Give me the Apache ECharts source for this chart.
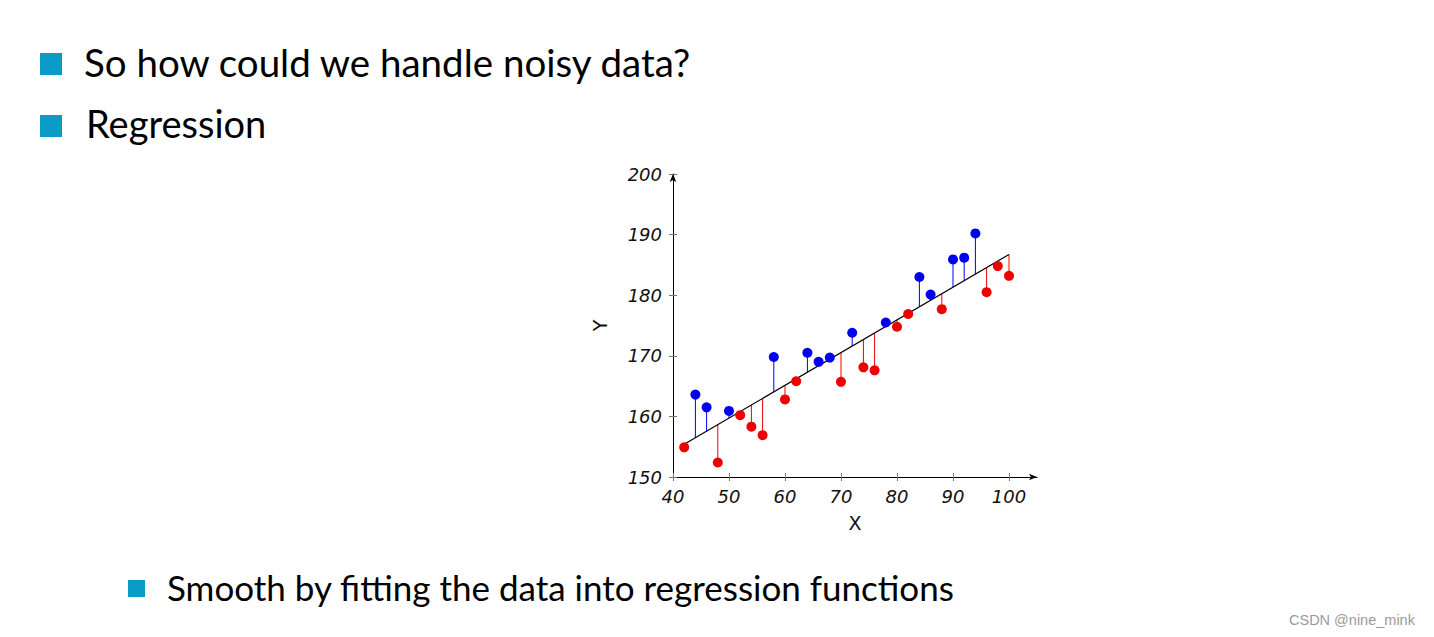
<!DOCTYPE html>
<html><head><meta charset="utf-8">
<script src="https://cdn.jsdelivr.net/npm/echarts@6/dist/echarts.min.js"></script>
<style>html,body{margin:0;padding:0;background:#fff}#c{width:1434px;height:637px}</style>
</head><body><div id="c"></div>
<script>
// ---- data ----
const xValues = [42,44,46,48,50,52,54,56,58,60,62,64,66,68,70,72,74,76,78,80,82,84,86,88,90,92,94,96,98,100];
const yValues = [154.9,163.6,161.5,152.4,160.9,160.2,158.3,156.9,169.8,162.8,165.8,170.5,169.0,169.7,165.7,173.8,168.1,167.6,175.5,174.8,176.9,183.0,180.1,177.7,185.9,186.2,190.2,180.5,184.8,183.2];
const regressionIntercept = 155.4;   // fitted Y at x = 42
const regressionSlope = 0.54;
const regressionRange = [42, 100];
const xTicks = [40,50,60,70,80,90,100];
const yTicks = [150,160,170,180,190,200];
const slideLines = ['So how could we handle noisy data?', 'Regression', 'Smooth by fitting the data into regression functions'];
const watermark = 'CSDN @nine_mink';

const BLUE = '#0000ee', RED = '#ee0000', BULLET = '#0a9bc9';
const fit = x => regressionIntercept + regressionSlope * (x - regressionRange[0]);

const blueData = [], redData = [];
xValues.forEach((x, i) => { (yValues[i] >= fit(x) ? blueData : redData).push([x, yValues[i]]); });
const stemData = xValues.map((x, i) => [x, yValues[i], fit(x)]);

const labelFont = { fontFamily: 'DejaVu Sans', fontStyle: 'italic', fontSize: 18, color: '#111' };

const chart = echarts.init(document.getElementById('c'), null, { renderer: 'svg' });
chart.setOption({
  animation: false,
  backgroundColor: '#fff',
  grid: { left: 673, top: 174, right: 397, bottom: 160 },
  xAxis: [{
    type: 'value', min: 40, max: 105, interval: 5,
    name: 'X', nameLocation: 'middle', nameGap: 36,
    nameTextStyle: { fontFamily: 'DejaVu Sans', fontSize: 19, color: '#111' },
    axisLine: { show: true, symbol: ['none', 'arrow'], symbolSize: [5, 8], lineStyle: { color: '#000', width: 1 } },
    axisTick: { show: true, customValues: xTicks, length: 4, lineStyle: { color: '#777' } },
    axisLabel: Object.assign({ customValues: xTicks, margin: 10 }, labelFont),
    splitLine: { show: false }
  }, {
    type: 'value', min: 40, max: 105, interval: 5, position: 'bottom', offset: 0,
    axisLine: { show: false },
    axisTick: { show: true, inside: true, customValues: xTicks, length: 4, lineStyle: { color: '#777' } },
    axisLabel: { show: false }, splitLine: { show: false }
  }],
  yAxis: [{
    type: 'value', min: 150, max: 200, interval: 10,
    name: 'Y', nameLocation: 'middle', nameGap: 64,
    nameTextStyle: { fontFamily: 'DejaVu Sans', fontSize: 19, color: '#111' },
    axisLine: { show: true, symbol: ['none', 'arrow'], symbolSize: [5, 8], lineStyle: { color: '#000', width: 1 } },
    axisTick: { show: true, length: 4, lineStyle: { color: '#777' } },
    axisLabel: Object.assign({ margin: 11 }, labelFont),
    splitLine: { show: false }
  }, {
    type: 'value', min: 150, max: 200, interval: 10, position: 'left', offset: 0,
    axisLine: { show: false },
    axisTick: { show: true, inside: true, length: 4, lineStyle: { color: '#777' } },
    axisLabel: { show: false }, splitLine: { show: false }
  }],
  series: [{
    type: 'custom', xAxisIndex: 0, yAxisIndex: 0, z: 1,
    data: stemData,
    renderItem: (params, api) => {
      const p1 = api.coord([api.value(0), api.value(1)]);
      const p2 = api.coord([api.value(0), api.value(2)]);
      return { type: 'line', shape: { x1: p1[0], y1: p1[1], x2: p2[0], y2: p2[1] },
        style: { stroke: api.value(1) >= api.value(2) ? BLUE : RED, lineWidth: 1 } };
    }
  }, {
    type: 'line', z: 2, showSymbol: false, silent: true,
    data: regressionRange.map(x => [x, fit(x)]),
    lineStyle: { color: '#000', width: 1.2 }
  }, {
    type: 'scatter', z: 3, symbolSize: 10, data: blueData, itemStyle: { color: BLUE, opacity: 1 }
  }, {
    type: 'scatter', z: 3, symbolSize: 10, data: redData, itemStyle: { color: RED, opacity: 1 }
  }],
  graphic: [
    { type: 'rect', shape: { x: 40, y: 53, width: 22, height: 22 }, style: { fill: BULLET } },
    { type: 'rect', shape: { x: 40, y: 115, width: 22, height: 22 }, style: { fill: BULLET } },
    { type: 'rect', shape: { x: 128, y: 580, width: 17, height: 17 }, style: { fill: BULLET } },
    { type: 'text', x: 84, y: 62, style: { text: slideLines[0], fontFamily: 'Lato', fontSize: 38.5, fill: '#000', verticalAlign: 'middle' } },
    { type: 'text', x: 86, y: 123, style: { text: slideLines[1], fontFamily: 'Lato', fontSize: 38, fill: '#000', verticalAlign: 'middle' } },
    { type: 'text', x: 167, y: 587, style: { text: slideLines[2], fontFamily: 'Lato', fontSize: 35, fill: '#000', verticalAlign: 'middle' } },
    { type: 'text', x: 1289, y: 620, style: { text: watermark, fontFamily: 'Liberation Sans', fontSize: 14.5, fill: '#9a9a9a', verticalAlign: 'middle' } }
  ]
});
</script></body></html>
